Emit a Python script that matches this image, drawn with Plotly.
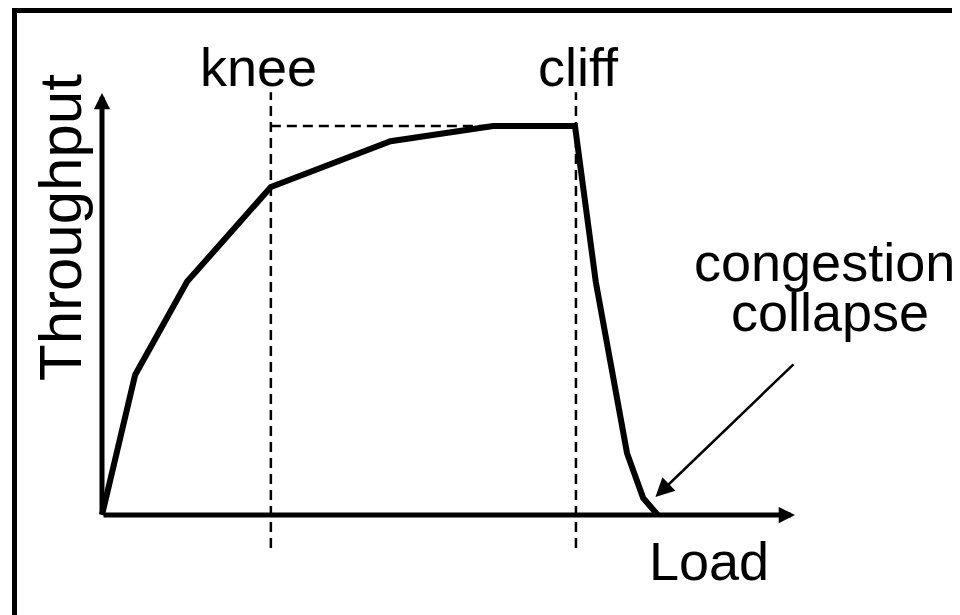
import plotly.graph_objects as go

# ---- data (abstract units: load, throughput with plateau = 100) ----
load = [0, 7, 18, 35.7, 61, 82.7, 100, 104.4, 111, 114.4, 117.5]
throughput = [0, 36, 60, 84.3, 96.1, 100, 100, 59.9, 15.9, 4.4, 0]
knee_load = 35.7
cliff_load = 100.2
plateau = 100
axis_x_end = 146.5
axis_y_end = 108.5
guide_top = 108.7
guide_bottom = -8.5
collapse_arrow_tail = (146.5, 39.1)
collapse_arrow_head = (117.0, 4.6)

labels = {"knee": "knee", "cliff": "cliff", "cong": "congestion",
          "coll": "collapse", "x": "Load", "y": "Throughput"}

# ---- layout mapping (page offset of 8px from the default body margin) ----
OFF = 8
W, H = 960 - OFF, 615 - OFF
X0, SX = 102 - OFF, 4.73
Y0, SY = 515 - OFF, 3.89
xr = [-X0 / SX, (W - X0) / SX]
yr = [(Y0 - H) / SY, Y0 / SY]

FONT = "Arial, Liberation Sans, sans-serif"

def px(x):
    return (x - OFF) / W

def py(y):
    return 1 - (y - OFF) / H

fig = go.Figure()

dash = dict(color="black", width=2.5, dash="10px,6px")
fig.add_trace(go.Scatter(x=[knee_load, knee_load], y=[guide_bottom, guide_top], mode="lines",
                         line=dash, hoverinfo="skip"))
fig.add_trace(go.Scatter(x=[cliff_load, cliff_load], y=[guide_bottom, guide_top], mode="lines",
                         line=dash, hoverinfo="skip"))
fig.add_trace(go.Scatter(x=[knee_load, load[5]], y=[plateau, plateau], mode="lines",
                         line=dash, hoverinfo="skip"))

# main curve
fig.add_trace(go.Scatter(x=load, y=throughput, mode="lines",
                         line=dict(color="black", width=6), hoverinfo="skip"))

annotations = []
annotations.append(dict(x=axis_x_end, y=0, ax=0, ay=0, xref="x", yref="y", axref="x", ayref="y",
                        showarrow=True, arrowhead=2, arrowwidth=5, arrowsize=0.65,
                        arrowcolor="black", text=""))
annotations.append(dict(x=0, y=axis_y_end, ax=0, ay=0, xref="x", yref="y", axref="x", ayref="y",
                        showarrow=True, arrowhead=2, arrowwidth=5, arrowsize=0.65,
                        arrowcolor="black", text=""))
annotations.append(dict(x=collapse_arrow_head[0], y=collapse_arrow_head[1],
                        ax=collapse_arrow_tail[0], ay=collapse_arrow_tail[1],
                        xref="x", yref="y", axref="x", ayref="y",
                        showarrow=True, arrowhead=2, arrowwidth=2.5, arrowsize=1.5,
                        arrowcolor="black", text=""))

def txt(t, x, y, size=54, angle=0):
    return dict(text=t, x=px(x), y=py(y), xref="paper", yref="paper",
                showarrow=False, xanchor="center", yanchor="middle", textangle=angle,
                font=dict(family=FONT, size=size, color="black"))

annotations += [
    txt(labels["knee"], 258, 67),
    txt(labels["cliff"], 578, 67),
    txt(labels["cong"], 824, 262),
    txt(labels["coll"], 830, 312),
    txt(labels["x"], 709, 561),
    txt(labels["y"], 60, 228, size=60, angle=-90),
]

shapes = [
    dict(type="line", xref="paper", yref="paper", x0=px(958.5), x1=px(958.5), y0=py(8), y1=0,
         line=dict(color="#777777", width=1.5)),
    dict(type="line", xref="paper", yref="paper", x0=px(12), x1=px(959), y0=py(10.5), y1=py(10.5),
         line=dict(color="black", width=5)),
    dict(type="line", xref="paper", yref="paper", x0=px(14.5), x1=px(14.5), y0=py(8), y1=0,
         line=dict(color="black", width=5)),
]

fig.update_layout(
    width=W, height=H, margin=dict(l=0, r=0, t=0, b=0),
    paper_bgcolor="white", plot_bgcolor="white", showlegend=False,
    xaxis=dict(range=xr, visible=False, fixedrange=True),
    yaxis=dict(range=yr, visible=False, fixedrange=True),
    annotations=annotations, shapes=shapes,
)

fig.write_html("out.html")
